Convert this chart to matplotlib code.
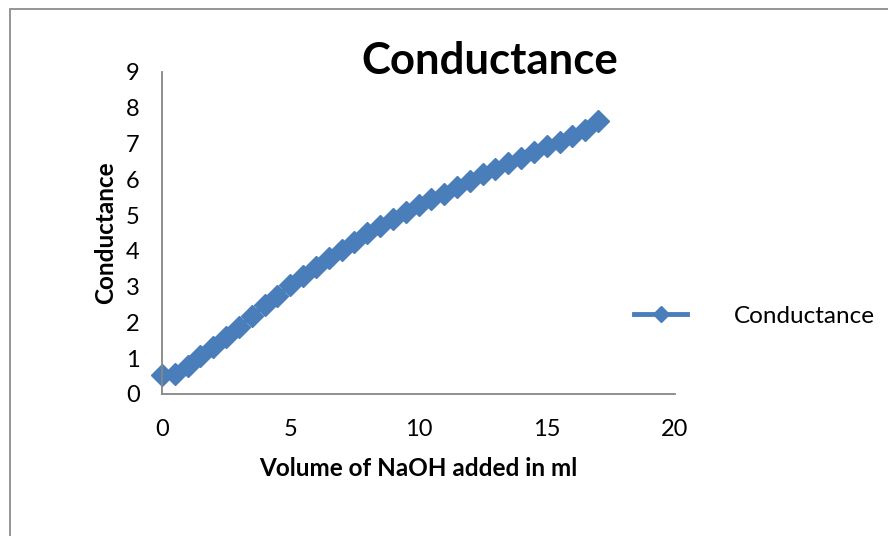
import matplotlib.pyplot as plt
from matplotlib.patches import Rectangle

plt.rcParams['font.family'] = ['Lato', 'DejaVu Sans']

# Volume of NaOH added (ml) and measured conductance
volume = [0, 0.5, 1, 1.5, 2, 2.5, 3, 3.5, 4, 4.5, 5, 5.5, 6, 6.5, 7, 7.5, 8, 8.5,
          9, 9.5, 10, 10.5, 11, 11.5, 12, 12.5, 13, 13.5, 14, 14.5, 15, 15.5,
          16, 16.5, 17]
conductance = [0.53, 0.56, 0.78, 1.06, 1.31, 1.59, 1.87, 2.18, 2.49, 2.74,
               3.04, 3.30, 3.55, 3.80, 4.02, 4.25, 4.49, 4.69, 4.89, 5.08,
               5.28, 5.44, 5.60, 5.79, 5.95, 6.14, 6.30, 6.45, 6.60, 6.77,
               6.92, 7.05, 7.22, 7.37, 7.63]

blue = "#4a7ebb"

fig = plt.figure(figsize=(8.88, 5.36), dpi=100)

# Chart area border
fig.patches.append(Rectangle((10 / 888, -0.1), 1.0, 1 - 9 / 536 + 0.1,
                             transform=fig.transFigure, fill=False,
                             edgecolor="#8c8c8c", linewidth=1.3))

ax = fig.add_axes([162 / 888, 1 - 394 / 536, 513 / 888, 322 / 536])
ax.plot(volume, conductance, color=blue, linewidth=3.5, marker="D",
        markersize=11, label="Conductance", clip_on=False)

ax.set_xlim(0, 20)
ax.set_ylim(0, 9)
ax.set_xticks([0, 5, 10, 15, 20])
ax.set_yticks(range(10))
ax.tick_params(length=0, labelsize=17, pad=18)
ax.tick_params(axis="y", pad=16)
for side in ["top", "right"]:
    ax.spines[side].set_visible(False)
for side in ["left", "bottom"]:
    ax.spines[side].set_color("#868686")
    ax.spines[side].set_linewidth(1.3)

ax.set_xlabel("Volume of NaOH added in ml", fontsize=17.5, fontweight="bold", labelpad=12)
ax.set_ylabel("Conductance", fontsize=17.5, fontweight="bold", labelpad=6)

fig.text(490 / 888, 1 - 61 / 536, "Conductance", fontsize=31.5, fontweight="bold",
         ha="center", va="center")

fig.legend(loc="center left", bbox_to_anchor=(612 / 888, 1 - 316 / 536),
           frameon=False, fontsize=17.5, handlelength=2.2, handletextpad=1.9,
           markerscale=0.75)

fig.savefig("out.png", dpi=100)
